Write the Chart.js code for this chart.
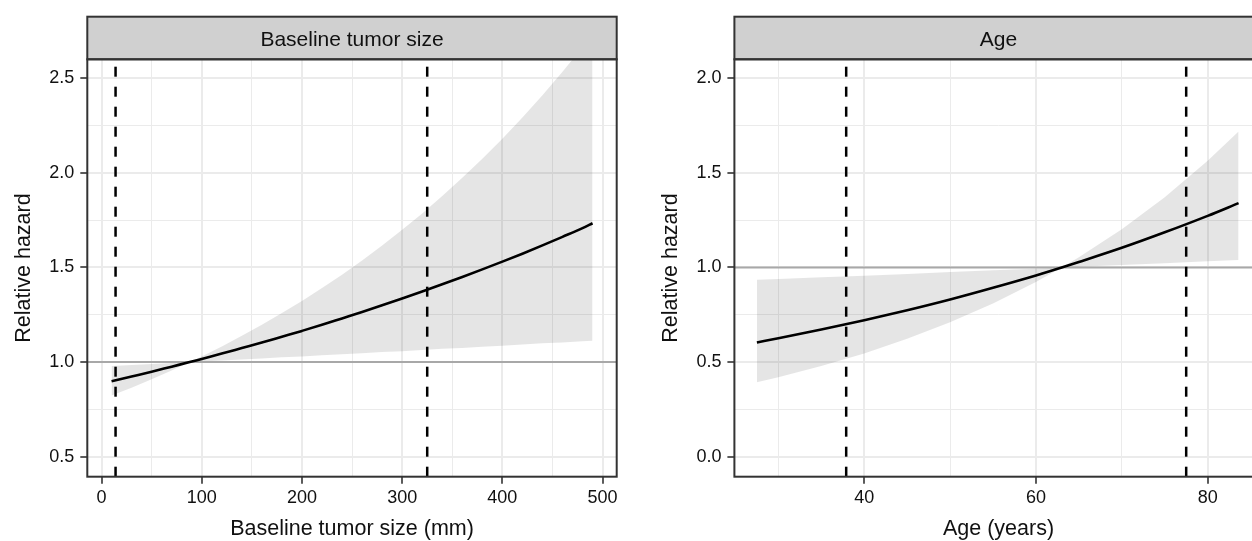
<!DOCTYPE html>
<html><head><meta charset="utf-8">
<script src="https://cdn.jsdelivr.net/npm/chart.js@4.4.1/dist/chart.umd.min.js"></script>
<style>
html,body{margin:0;padding:0;width:1252px;height:541px;overflow:hidden;background:#fff;position:relative}
#c1{position:absolute;left:0;top:0}
#c2{position:absolute;left:626px;top:0}
</style></head><body>
<canvas id="c1" width="626" height="541"></canvas>
<canvas id="c2" width="646" height="541"></canvas>
<script>
// ---- Panel 1: Baseline tumor size ----
const tumorSize  = [10,30,50,70,88,100,120,140,160,180,200,220,240,260,280,300,320,340,360,380,400,420,440,460,480,490];
const tumorHR    = [0.899,0.924,0.949,0.976,1.000,1.017,1.045,1.074,1.103,1.134,1.165,1.197,1.231,1.265,1.300,1.336,1.373,1.411,1.450,1.490,1.531,1.573,1.617,1.662,1.708,1.734];
const tumorLower = [0.823,0.865,0.909,0.956,1.000,1.003,1.009,1.014,1.019,1.025,1.030,1.036,1.041,1.047,1.053,1.058,1.064,1.070,1.075,1.081,1.087,1.093,1.099,1.104,1.110,1.113];
const tumorUpper = [0.979,0.985,0.990,0.995,1.000,1.030,1.083,1.139,1.197,1.259,1.323,1.391,1.462,1.537,1.616,1.699,1.786,1.878,1.974,2.075,2.181,2.293,2.411,2.535,2.664,2.732];
const tumorCutoffs = [14, 325];
const tumorMajorTicks = [0,100,200,300,400,500];
const tumorMinorTicks = [50,150,250,350,450];
const hrLeftMajorTicks = [0.5,1.0,1.5,2.0,2.5];
const hrLeftMinorTicks = [0.75,1.25,1.75,2.25];

// ---- Panel 2: Age ----
const age      = [27.5,30,35,40,45,50,55,60,63,65,70,75,80,83.6];
const ageHR    = [0.604,0.626,0.672,0.721,0.774,0.831,0.893,0.958,1.000,1.029,1.104,1.186,1.273,1.340];
const ageLower = [0.393,0.420,0.479,0.546,0.623,0.710,0.810,0.924,1.000,1.004,1.013,1.023,1.033,1.040];
const ageUpper = [0.935,0.939,0.948,0.957,0.966,0.976,0.985,0.994,1.000,1.054,1.202,1.371,1.564,1.719];
const ageCutoffs = [37.9, 77.5];
const ageMajorTicks = [40,60,80];
const ageMinorTicks = [30,50,70];
const hrRightMajorTicks = [0,0.5,1.0,1.5,2.0];
const hrRightMinorTicks = [0.25,0.75,1.25,1.75];

const referenceHR = 1;

const FONT = '"Liberation Sans", Arial, Helvetica, sans-serif';
const TXT = '#111';

function isIn(arr, v){ return arr.some(a => Math.abs(a - v) < 1e-9); }

function makePanel(o){
  const pts = (xs, ys) => xs.map((x,i)=>({x, y: ys[i]}));
  const datasets = [
    {data: pts(o.x, o.lower), borderWidth:0, fill:false, order:5},
    {data: pts(o.x, o.upper), borderWidth:0, fill:'-1', backgroundColor:'rgba(0,0,0,0.1)', order:4},
    {data: [{x:o.xMin,y:referenceHR},{x:o.xMax,y:referenceHR}], borderColor:'#a8a8a8', borderWidth:2, order:3},
    {data: pts(o.x, o.hr), borderColor:'#000', borderWidth:2.6, cubicInterpolationMode:'monotone', order:2}
  ];
  o.cutoffs.forEach(c => datasets.push({
    data:[{x:c,y:o.yMin},{x:c,y:o.yMax}], borderColor:'#000', borderWidth:2.5, borderDash:[10,10], order:1
  }));

  const decor = {
    id:'decor',
    afterDraw(chart){
      const ctx = chart.ctx, a = chart.chartArea;
      ctx.save();
      ctx.fillStyle = '#d0d0d0';
      ctx.fillRect(a.left, 16.7, a.right - a.left, a.top - 16.7);
      ctx.strokeStyle = '#333';
      ctx.lineWidth = 2;
      ctx.strokeRect(a.left, 16.7, a.right - a.left, a.top - 16.7);
      ctx.fillStyle = TXT;
      ctx.font = '21px ' + FONT;
      ctx.textAlign = 'center';
      ctx.textBaseline = 'middle';
      ctx.fillText(o.strip, (a.left + a.right)/2, 40.5);
      ctx.strokeRect(a.left, a.top, a.right - a.left, a.bottom - a.top);
      ctx.restore();
    }
  };

  const axis = (min, max, major, minor, fmt) => ({
    type:'linear', min, max,
    afterBuildTicks: s => { s.ticks = [...major, ...minor].sort((p,q)=>p-q).map(v=>({value:v})); },
    ticks:{
      autoSkip:false, maxRotation:0, color:TXT, font:{family:FONT, size:18},
      callback: v => isIn(major, v) ? fmt(v) : ''
    },
    grid:{
      color:'#ebebeb',
      lineWidth: c => (c.tick && isIn(major, c.tick.value)) ? 2 : 1,
      tickLength:7,
      tickColor: c => (c.tick && isIn(major, c.tick.value)) ? '#333' : 'rgba(0,0,0,0)',
      tickWidth:1.6
    },
    border:{display:false}
  });

  const xAxis = axis(o.xMin, o.xMax, o.xMajor, o.xMinor, v => String(v));
  xAxis.ticks.padding = 4;
  xAxis.afterFit = s => { s.height = 541 - 476.7; };
  xAxis.title = {display:true, text:o.xTitle, color:TXT, font:{family:FONT, size:21.5, lineHeight:1.1}, padding:{top:0,bottom:0}};

  const yAxis = axis(o.yMin, o.yMax, o.yMajor, o.yMinor, v => v.toFixed(1));
  yAxis.ticks.padding = 6;
  yAxis.afterFit = s => { s.width = o.yWidth; };
  yAxis.title = {display:true, text:'Relative hazard', color:TXT, font:{family:FONT, size:21.5}, padding:{top:o.yTitlePad,bottom:0}};

  new Chart(document.getElementById(o.id), {
    type:'line',
    data:{datasets},
    options:{
      responsive:false, animation:false,
      layout:{padding:{left:0, right:o.padRight, top:59.3, bottom:0}},
      elements:{point:{radius:0, hoverRadius:0}, line:{tension:0}},
      plugins:{legend:{display:false}, tooltip:{enabled:false}},
      scales:{x:xAxis, y:yAxis}
    },
    plugins:[decor]
  });
}

makePanel({
  id:'c1', strip:'Baseline tumor size', xTitle:'Baseline tumor size (mm)',
  x:tumorSize, hr:tumorHR, lower:tumorLower, upper:tumorUpper, cutoffs:tumorCutoffs,
  xMin:-14.2, xMax:514.1, yMin:0.3943, yMax:2.6004,
  xMajor:tumorMajorTicks, xMinor:tumorMinorTicks, yMajor:hrLeftMajorTicks, yMinor:hrLeftMinorTicks,
  yWidth:87.3, padRight:9.3, yTitlePad:11.6
});

makePanel({
  id:'c2', strip:'Age', xTitle:'Age (years)',
  x:age, hr:ageHR, lower:ageLower, upper:ageUpper, cutoffs:ageCutoffs,
  xMin:24.88, xMax:86.4, yMin:-0.1057, yMax:2.1004,
  xMajor:ageMajorTicks, xMinor:ageMinorTicks, yMajor:hrRightMajorTicks, yMinor:hrRightMinorTicks,
  yWidth:108.4, padRight:9.4, yTitlePad:32.6
});
</script>
</body></html>
